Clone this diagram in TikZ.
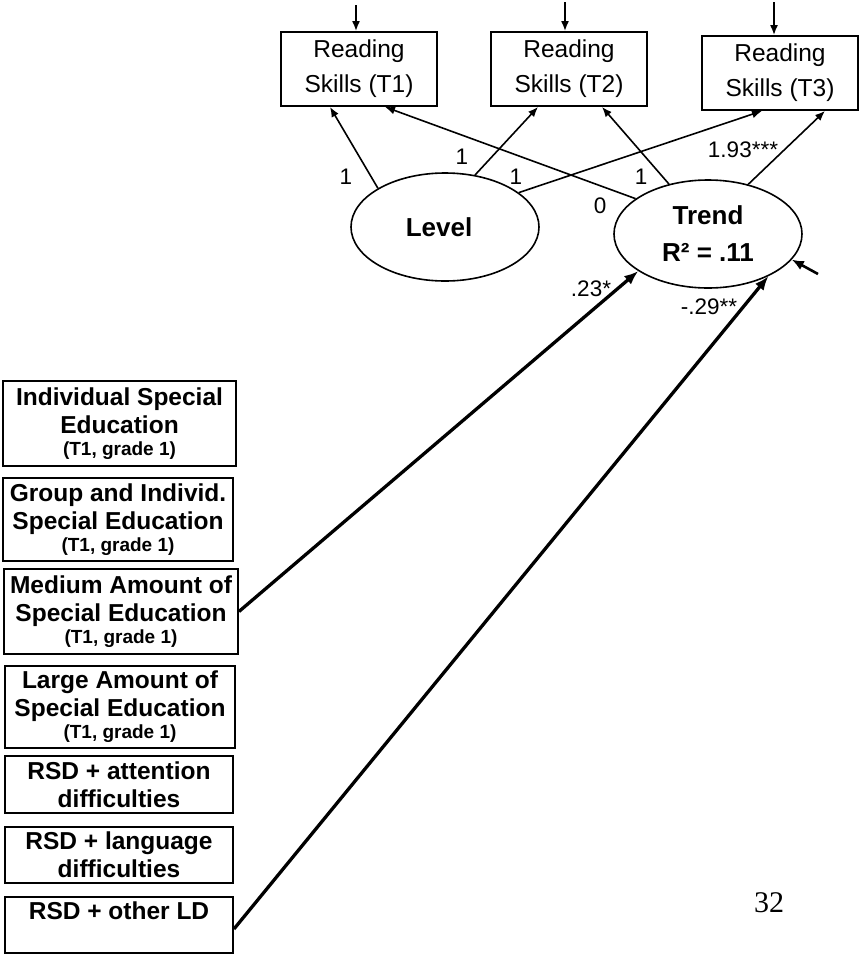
\documentclass[tikz,border=0pt]{standalone}
\usepackage{fontspec}
\setmainfont{Liberation Sans}
\newfontfamily\pagefont{Liberation Serif}
\usetikzlibrary{positioning, arrows.meta, shapes}
\tikzset{obs/.style={draw, rectangle, line width=1.9pt, inner sep=0pt, align=center,
  minimum width=156pt, minimum height=74pt, font=\fontsize{24.5}{35}\selectfont}}
\tikzset{pred/.style={draw, rectangle, line width=1.9pt, inner sep=0pt, align=center,
  font=\fontsize{24.5}{28}\selectfont\bfseries}}
\tikzset{latent/.style={draw, ellipse, line width=1.6pt, inner sep=0pt, align=center,
  minimum width=188pt, minimum height=108pt, font=\fontsize{26}{37}\selectfont\bfseries}}
\tikzset{lnk/.style={line width=1.6pt, -{Latex[length=10pt, width=8pt]}}}
\tikzset{effect/.style={line width=3.3pt, -{Latex[length=14pt, width=11pt]}}}
\tikzset{coef/.style={inner sep=0pt, font=\fontsize{22.5}{22}\selectfont}}
\newcommand{\gradeinfo}{\\[-6pt]{\fontsize{19}{22}\selectfont (T1, grade 1)}}

\begin{document}
\begin{tikzpicture}[x=1pt, y=-1pt]
      \useasboundingbox (0,0) rectangle (859,956);

      \node[obs] (rs1) at (359,69) {Reading\hspace{22pt}\\Skills (T1)};
      \node[obs] (rs2) at (569,69) {Reading\\Skills (T2)};
      \node[obs] (rs3) at (780,73) {Reading\hspace{6pt}\\Skills (T3)};

      \coordinate (e1) at (356,5);
      \coordinate (e2) at (565,2);
      \coordinate (e3) at (774,2);
      \draw[lnk] (e1) -- (rs1.north -| e1);
      \draw[lnk] (e2) -- (rs2.north -| e2);
      \draw[lnk] (e3) -- (rs3.north -| e3);

      \node[latent] (lvl) at (445,227) {Level\hspace{12pt}};
      \node[latent] (trd) at (708,234) {Trend\\R² = .11};

      \draw[lnk] (lvl.150) -- ([xshift=-29pt]rs1.south);
      \draw[lnk] (lvl.60) -- ([xshift=-31pt]rs2.south);
      \draw[lnk] (lvl.25) -- ([xshift=-18pt]rs3.south);
      \draw[lnk] (trd.154) -- ([xshift=26pt]rs1.south);
      \draw[lnk] (trd.128) -- ([xshift=33pt]rs2.south);
      \draw[lnk] (trd.51) -- ([xshift=45pt]rs3.south);

      \node[coef] (c1) at (346,177) {1};
      \node[coef] (c2) at (462,157) {1};
      \node[coef] (c3) at (516,177) {1};
      \node[coef] (c4) at (641,177) {1};
      \node[coef] (c5) at (600,206) {0};
      \node[coef] (c6) at (743,150) {1.93***};

      \coordinate (dT) at (818,274);
      \draw[line width=2.6pt, -{Latex[length=12pt, width=10pt]}] (dT) -- (trd.343);

      \node[pred, minimum width=233pt, minimum height=85pt] (se1) at (119.5,423.5)
        {Individual Special\\Education\gradeinfo};
      \node[pred, minimum width=230pt, minimum height=83pt] (se2) at (118,519.5)
        {Group and Individ.\\Special Education\gradeinfo};
      \node[pred, minimum width=234pt, minimum height=85pt] (se3) at (121,611.5)
        {Medium Amount of\\Special Education\gradeinfo};
      \node[pred, minimum width=230pt, minimum height=82pt] (se4) at (120,707)
        {Large Amount of\\Special Education\gradeinfo};
      \node[pred, minimum width=228pt, minimum height=57pt] (se5) at (119,784.5)
        {RSD + attention\\difficulties};
      \node[pred, minimum width=228pt, minimum height=56pt] (se6) at (119,855)
        {RSD + language\\difficulties};
      \node[pred, minimum width=228pt, minimum height=56pt] (se7) at (119,925)
        {RSD + other LD\\~};

      \draw[effect] (se3.east) -- (trd.208);
      \draw[effect] ([yshift=-4pt]se7.east) -- (trd.325);

      \node[coef] (c7) at (591,289) {.23*};
      \node[coef] (c8) at (709,307) {-.29**};

      \node[inner sep=0pt, font=\pagefont\fontsize{30}{30}\selectfont] (pg) at (769,903) {32};

    \end{tikzpicture}
\end{document}
